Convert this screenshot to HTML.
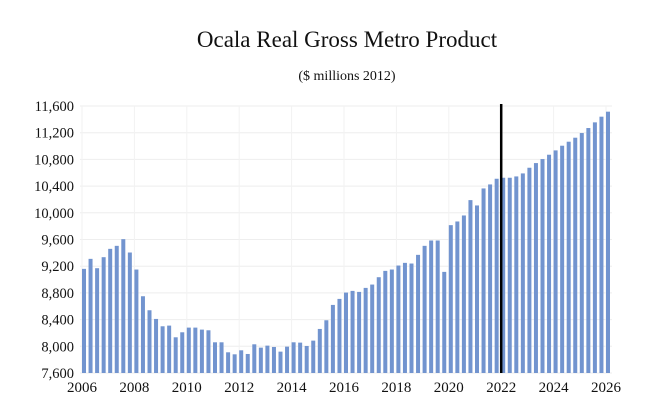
<!DOCTYPE html>
<html><head><meta charset="utf-8"><style>
html,body{margin:0;padding:0;background:#fff;}
svg{display:block;font-family:"Liberation Serif",serif;}
</style></head><body>
<svg id="chart" width="658" height="420" viewBox="0 0 658 420" xmlns="http://www.w3.org/2000/svg">
<text x="347" y="47" text-anchor="middle" font-size="23" fill="#111">Ocala Real Gross Metro Product</text>
<text x="347" y="80" text-anchor="middle" font-size="14" fill="#111">($ millions 2012)</text>
<g id="grid"></g>
<g id="bars"></g>
<g id="yaxis"></g>
<g id="xaxis"></g>
</svg>
<script>
const values = [9160,9310,9170,9335,9460,9505,9605,9405,9150,8750,8540,8410,8300,8310,8135,8210,8280,8280,8250,8240,8060,8060,7910,7880,7940,7885,8030,7980,8010,7990,7920,7995,8060,8055,8005,8085,8260,8390,8620,8710,8805,8830,8815,8875,8925,9035,9130,9150,9210,9250,9240,9370,9505,9585,9585,9115,9815,9870,9960,10190,10110,10365,10425,10510,10525,10525,10545,10590,10675,10745,10805,10870,10935,11005,11065,11125,11195,11270,11355,11440,11515];
const startYear = 2006;
const yTicks = [7600,8000,8400,8800,9200,9600,10000,10400,10800,11200,11600];
const xTicks = [2006,2008,2010,2012,2014,2016,2018,2020,2022,2024,2026];
const markerYear = 2022;

const NS = "http://www.w3.org/2000/svg";
const yMin = 7600, yMax = 11600, yBottom = 373, yTop = 106;
function yScale(v){ return yBottom - (v - yMin) / (yMax - yMin) * (yBottom - yTop); }
function xScale(t){ return 82 + (t - 2006) * 26.2; }
function mk(tag, attrs){ const e = document.createElementNS(NS, tag); for (const k in attrs) e.setAttribute(k, attrs[k]); return e; }

const grid = document.getElementById('grid');
const yaxis = document.getElementById('yaxis');
yTicks.forEach(v => {
  const y = yScale(v);
  const l = mk('line', {x1: 80, x2: 612, y1: y, y2: y, stroke: '#eeeeee', 'stroke-width': 1});
  
  
  grid.appendChild(l);
  const t = mk('text', {x: 74, y: y + 5, 'text-anchor': 'end', 'font-size': 14.5, fill: '#111'});
  t.textContent = v.toLocaleString('en-US');
  
  
  yaxis.appendChild(t);
});
const xaxis = document.getElementById('xaxis');
xTicks.forEach(yr => {
  const x = xScale(yr);
  const l = mk('line', {x1: x, x2: x, y1: yTop, y2: yBottom, stroke: '#f2f2f2', 'stroke-width': 1});
  
  
  grid.appendChild(l);
  const t = mk('text', {x: x, y: 392, 'text-anchor': 'middle', 'font-size': 15, fill: '#111'});
  t.textContent = yr;
  
  
  xaxis.appendChild(t);
});
const bars = document.getElementById('bars');
values.forEach((v, i) => {
  const cx = xScale(startYear + i / 4) + 2;
  const y = yScale(v);
  const r = mk('rect', {x: cx - 2, y: y, width: 4, height: yBottom - y, fill: '#7294cf'});
  
  
  bars.appendChild(r);
});
const mx = xScale(markerYear);
const ml = mk('line', {x1: mx, x2: mx, y1: 104, y2: yBottom, stroke: '#000', 'stroke-width': 2.5});


document.getElementById('chart').appendChild(ml);
</script>
</body></html>
